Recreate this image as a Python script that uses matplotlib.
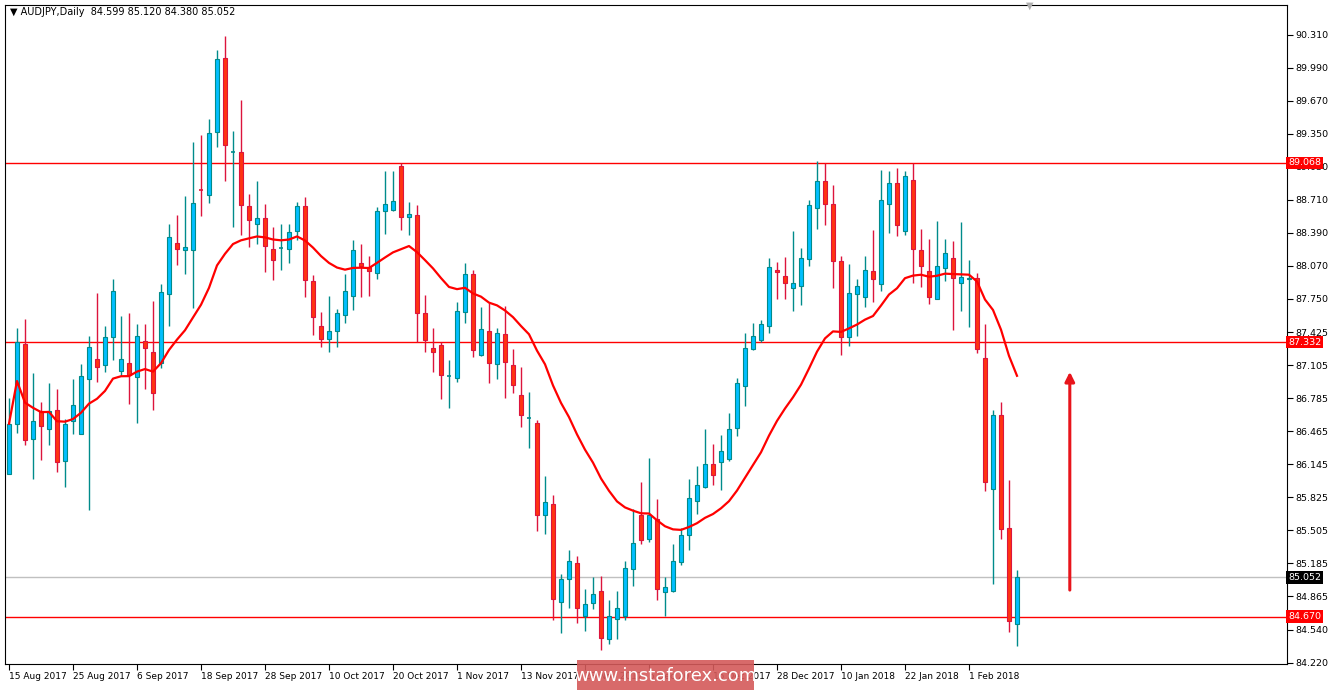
import matplotlib
matplotlib.use('Agg')
import matplotlib.pyplot as plt
from matplotlib.patches import Rectangle
import numpy as np
import pandas as pd

plt.rcParams['font.family'] = ['DejaVu Sans']

# AUDJPY daily candles
opens = [86.05, 86.54, 87.31, 86.39, 86.66, 86.49, 86.67, 86.18, 86.57, 86.44,
         86.97, 87.17, 87.11, 87.38, 87.05, 87.13, 86.99, 87.34, 87.24, 87.13,
         87.80, 88.29, 88.22, 88.22, 88.82, 88.76, 89.37, 90.09, 89.17, 89.17,
         88.65, 88.48, 88.53, 88.23, 88.24, 88.23, 88.41, 88.65, 87.92, 87.49,
         87.36, 87.44, 87.59, 87.78, 88.10, 88.06, 88.00, 88.60, 88.61, 89.04,
         88.54, 88.56, 87.61, 87.27, 87.30, 87.00, 86.98, 87.62, 87.99, 87.21,
         87.44, 87.12, 87.41, 87.11, 86.82, 86.60, 86.55, 85.65, 85.76, 84.81,
         85.03, 85.19, 84.68, 84.80, 84.92, 84.45, 84.65, 84.68, 85.13, 85.65,
         85.42, 85.62, 84.91, 84.92, 85.20, 85.46, 85.79, 85.93, 86.15, 86.17,
         86.20, 86.50, 86.91, 87.26, 87.35, 87.49, 88.03, 87.97, 87.86, 87.88,
         88.14, 88.63, 88.89, 88.67, 88.12, 87.38, 87.80, 87.77, 88.02, 87.89,
         88.67, 88.87, 88.41, 88.90, 88.22, 88.02, 87.75, 88.05, 88.15, 87.90,
         87.94, 87.95, 87.18, 85.91, 86.62, 85.53, 84.60]
highs = [86.79, 87.47, 87.56, 87.03, 86.75, 86.93, 86.88, 86.59, 86.97, 87.12,
         87.39, 87.81, 87.49, 87.94, 87.58, 87.61, 87.51, 87.51, 87.73, 87.89,
         88.48, 88.56, 88.75, 89.27, 89.34, 89.49, 90.16, 90.30, 89.38, 89.68,
         88.77, 88.89, 88.67, 88.45, 88.48, 88.48, 88.69, 88.74, 87.98, 87.62,
         87.78, 87.65, 87.99, 88.32, 88.28, 88.17, 88.64, 88.99, 88.99, 89.07,
         88.69, 88.66, 87.79, 87.47, 87.33, 87.16, 87.72, 88.10, 88.03, 87.67,
         87.71, 87.47, 87.68, 87.26, 87.09, 86.85, 86.58, 86.03, 85.85, 85.08,
         85.32, 85.26, 84.94, 85.05, 85.06, 84.83, 84.92, 85.21, 85.71, 85.97,
         86.21, 85.81, 85.05, 85.37, 85.53, 86.00, 86.13, 86.49, 86.34, 86.43,
         86.64, 86.98, 87.42, 87.52, 87.55, 88.15, 88.11, 88.16, 88.41, 88.24,
         88.71, 89.09, 89.07, 88.85, 88.17, 88.09, 87.94, 88.17, 88.42, 89.00,
         88.99, 89.02, 88.99, 89.07, 88.43, 88.33, 88.51, 88.33, 88.31, 88.50,
         88.13, 88.00, 87.51, 86.67, 86.75, 85.99, 85.12]
lows = [86.05, 86.45, 86.33, 86.00, 86.19, 86.33, 86.07, 85.93, 86.44, 86.44,
        85.70, 86.94, 87.04, 87.16, 87.00, 86.73, 86.55, 86.88, 86.67, 87.08,
        87.49, 88.08, 87.99, 87.66, 88.55, 88.68, 89.22, 88.89, 88.45, 88.37,
        88.25, 88.28, 88.01, 87.93, 88.03, 88.10, 88.32, 87.77, 87.40, 87.28,
        87.24, 87.28, 87.52, 87.64, 87.77, 87.78, 87.94, 88.38, 88.60, 88.42,
        88.37, 87.33, 87.24, 87.04, 86.78, 86.69, 86.94, 87.52, 87.19, 87.20,
        86.93, 86.97, 86.79, 86.84, 86.51, 86.30, 85.50, 85.47, 84.64, 84.51,
        84.75, 84.61, 84.53, 84.74, 84.35, 84.40, 84.45, 84.64, 84.97, 85.37,
        85.39, 84.83, 84.68, 84.91, 85.17, 85.32, 85.66, 85.92, 85.95, 85.90,
        86.18, 86.42, 86.71, 87.25, 87.33, 87.42, 87.75, 87.75, 87.63, 87.69,
        88.07, 88.43, 88.47, 87.86, 87.21, 87.29, 87.39, 87.67, 87.72, 87.83,
        88.39, 88.36, 88.37, 87.90, 87.87, 87.70, 87.75, 87.92, 87.45, 87.63,
        87.48, 87.23, 85.89, 84.99, 85.42, 84.52, 84.38]
closes = [86.54, 87.33, 86.38, 86.57, 86.52, 86.66, 86.17, 86.54, 86.72, 87.00,
          87.28, 87.09, 87.38, 87.83, 87.17, 87.01, 87.39, 87.27, 86.84, 87.82,
          88.35, 88.23, 88.25, 88.68, 88.81, 89.36, 90.08, 89.24, 89.17, 88.66,
          88.52, 88.53, 88.26, 88.13, 88.24, 88.40, 88.65, 87.93, 87.57, 87.36,
          87.44, 87.61, 87.83, 88.22, 88.07, 88.02, 88.60, 88.67, 88.70, 88.54,
          88.57, 87.61, 87.35, 87.24, 87.01, 87.00, 87.63, 87.99, 87.25, 87.46,
          87.13, 87.42, 87.14, 86.92, 86.62, 86.60, 85.65, 85.78, 84.84, 85.03,
          85.21, 84.75, 84.79, 84.89, 84.46, 84.68, 84.75, 85.14, 85.38, 85.41,
          85.65, 84.94, 84.96, 85.21, 85.46, 85.82, 85.95, 86.15, 86.04, 86.28,
          86.49, 86.93, 87.27, 87.39, 87.51, 88.06, 88.01, 87.90, 87.90, 88.15,
          88.66, 88.89, 88.67, 88.12, 87.38, 87.81, 87.88, 88.03, 87.94, 88.71,
          88.87, 88.47, 88.94, 88.23, 88.07, 87.77, 88.07, 88.20, 87.95, 87.96,
          87.95, 87.26, 85.97, 86.62, 85.52, 84.63, 85.052]

date_labels = ['15 Aug 2017', '25 Aug 2017', '6 Sep 2017', '18 Sep 2017', '28 Sep 2017',
               '10 Oct 2017', '20 Oct 2017', '1 Nov 2017', '13 Nov 2017', '23 Nov 2017',
               '5 Dec 2017', '15 Dec 2017', '28 Dec 2017', '10 Jan 2018', '22 Jan 2018',
               '1 Feb 2018']
ytick_vals = [90.310, 89.990, 89.670, 89.350, 89.030, 88.710, 88.390, 88.070, 87.750,
              87.425, 87.105, 86.785, 86.465, 86.145, 85.825, 85.505, 85.185, 84.865,
              84.540, 84.220]
levels = [89.068, 87.332, 84.670]
last_price = 85.052

df = pd.DataFrame({'open': opens, 'high': highs, 'low': lows, 'close': closes})
ma = df['close'].ewm(alpha=0.09, adjust=True).mean()

fig = plt.figure(figsize=(13.3, 6.91), dpi=100)
ax = fig.add_axes([5 / 1330, 1 - 664 / 691, 1282 / 1330, 659 / 691])
ax.set_xlim(-0.5, 159.75)
ax.set_ylim(84.21, 90.60)

bull_face, bull_edge = '#00bfff', '#008b8b'
bear_face, bear_edge = '#ff3311', '#dc143c'
w = 0.6
for i, r in df.iterrows():
    up = r['close'] >= r['open']
    face, edge = (bull_face, bull_edge) if up else (bear_face, bear_edge)
    ax.vlines(i, r['low'], r['high'], color=edge, lw=1, zorder=2)
    lo, hi = min(r['open'], r['close']), max(r['open'], r['close'])
    if hi - lo < 0.01:
        ax.hlines(lo, i - w / 2, i + w / 2, color=edge, lw=1.2, zorder=3)
    else:
        ax.add_patch(Rectangle((i - w / 2, lo), w, hi - lo, facecolor=face,
                               edgecolor=edge, lw=0.8, zorder=3))

ax.plot(df.index, ma, color='red', lw=1.6, zorder=4)

for lv in levels:
    ax.axhline(lv, color='red', lw=1, zorder=1)
ax.axhline(last_price, color='#c0c0c0', lw=1, zorder=1)

ax.annotate('', xy=(132.6, 87.07), xytext=(132.6, 84.90),
            arrowprops=dict(arrowstyle='-|>', color='#e8141b', lw=2.2, mutation_scale=14))

ax.yaxis.tick_right()
ax.set_yticks(ytick_vals)
ax.set_yticklabels(['%.3f' % v for v in ytick_vals])
ax.tick_params(axis='y', labelsize=6.8, length=4, pad=2)
ax.set_xticks(np.arange(0, 128, 8))
ax.set_xticklabels(date_labels, ha='left')
ax.tick_params(axis='x', labelsize=6.5, length=4, pad=2)
for s in ax.spines.values():
    s.set_color('black')

trans = ax.get_yaxis_transform()
for lv in levels:
    ax.text(1.001, lv, '%.3f' % lv, transform=trans, fontsize=6.8, color='white',
            va='center', ha='left', bbox=dict(boxstyle='square,pad=0.2', fc='red', ec='none'))
ax.text(1.001, last_price, '%.3f' % last_price, transform=trans, fontsize=6.8, color='white',
        va='center', ha='left', bbox=dict(boxstyle='square,pad=0.2', fc='black', ec='none'))

fig.text(10 / 1330, 1 - 12 / 691, '\u25bc AUDJPY,Daily  84.599 85.120 84.380 85.052',
         fontsize=7, va='center')
fig.text(1030 / 1330, 1 - 6 / 691, '\u25bc', color='#b0b0b0', fontsize=7, ha='center',
         va='center')

wm = Rectangle((577 / 1330, 1 - 690 / 691), 177 / 1330, 30 / 691, transform=fig.transFigure,
               fc='#d45a5a', alpha=0.9, ec='none', zorder=10)
fig.add_artist(wm)
fig.text(665 / 1330, 1 - 676 / 691, 'www.instaforex.com', color='white', fontsize=13,
         ha='center', va='center', zorder=11)

fig.savefig('out.png', dpi=100)
